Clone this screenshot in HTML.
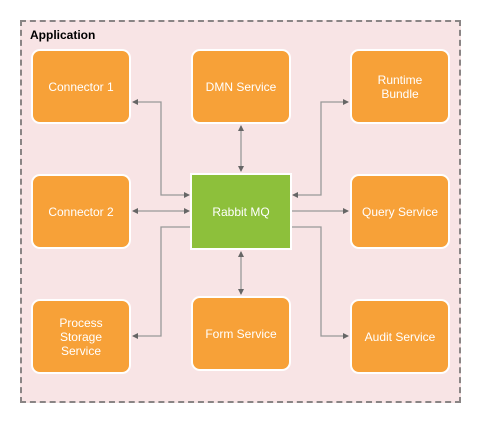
<!DOCTYPE html>
<html><head><meta charset="utf-8"><style>
html,body{margin:0;padding:0;background:#fff;width:488px;height:423px;overflow:hidden}
body{position:relative;font-family:"Liberation Sans",Arial,sans-serif}
.c{position:absolute;left:20px;top:20px;width:441px;height:383px;box-sizing:border-box;background:#f8e4e5;border:2px dashed #8a8585}
.t{position:absolute;left:30px;top:28px;font-size:12px;font-weight:bold;color:#000}
.b{position:absolute;box-sizing:border-box;background:#f7a138;border:2px solid #fff;border-radius:9px;color:#fff;font-size:12px;display:flex;align-items:center;justify-content:center;text-align:center;line-height:14px}
.g{background:#8dc03b;border-radius:0}
svg{position:absolute;left:0;top:0}
</style></head><body>
<div class="c"></div>
<div class="t">Application</div>
<div class="b" style="left:31px;top:49px;width:100px;height:75px">Connector 1</div>
<div class="b" style="left:191px;top:49px;width:100px;height:75px">DMN Service</div>
<div class="b" style="left:350px;top:49px;width:100px;height:75px">Runtime<br>Bundle</div>
<div class="b" style="left:31px;top:174px;width:100px;height:75px">Connector 2</div>
<div class="b g" style="left:190px;top:173px;width:102px;height:77px">Rabbit MQ</div>
<div class="b" style="left:350px;top:174px;width:100px;height:75px">Query Service</div>
<div class="b" style="left:31px;top:299px;width:100px;height:75px">Process<br>Storage<br>Service</div>
<div class="b" style="left:191px;top:296px;width:100px;height:75px">Form Service</div>
<div class="b" style="left:350px;top:299px;width:100px;height:75px">Audit Service</div>
<svg width="488" height="423" viewBox="0 0 488 423">
<defs><marker id="a" markerWidth="6" markerHeight="6" refX="5" refY="3" orient="auto-start-reverse" markerUnits="userSpaceOnUse"><path d="M0,0 L6,3 L0,6 z" fill="#666"/></marker></defs>
<g fill="none" stroke="#999" stroke-width="1.3">
<polyline points="133,102 161,102 161,195 189,195" marker-start="url(#a)" marker-end="url(#a)"/>
<line x1="133" y1="211" x2="189" y2="211" marker-start="url(#a)" marker-end="url(#a)"/>
<polyline points="190,227 161,227 161,336 133,336" marker-end="url(#a)"/>
<line x1="241" y1="126" x2="241" y2="171" marker-start="url(#a)" marker-end="url(#a)"/>
<line x1="241" y1="252" x2="241" y2="294" marker-start="url(#a)" marker-end="url(#a)"/>
<polyline points="293,195 321,195 321,102 348,102" marker-start="url(#a)" marker-end="url(#a)"/>
<line x1="292" y1="211" x2="348" y2="211" marker-end="url(#a)"/>
<polyline points="292,227 321,227 321,336 348,336" marker-end="url(#a)"/>
</g>
</svg>
</body></html>
